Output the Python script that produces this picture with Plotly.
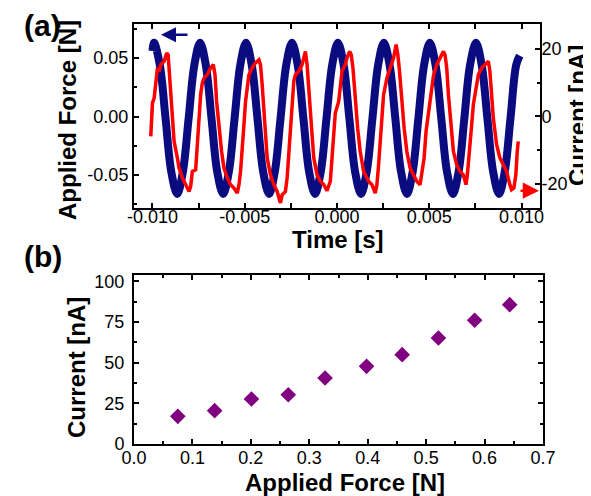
import plotly.graph_objects as go

# ---------------- Panel (a) data ----------------
force_time = [-0.01000, -0.00991, -0.00960, -0.00929, -0.00898, -0.00866, -0.00835, -0.00804, -0.00773,
              -0.00742, -0.00711, -0.00680, -0.00649, -0.00617, -0.00586, -0.00555, -0.00524,
              -0.00493, -0.00462, -0.00431, -0.00400, -0.00368, -0.00337, -0.00306, -0.00275,
              -0.00244, -0.00213, -0.00182, -0.00151, -0.00119, -0.00088, -0.00057, -0.00026,
              0.00005, 0.00036, 0.00067, 0.00098, 0.00130, 0.00161, 0.00192, 0.00223,
              0.00254, 0.00285, 0.00316, 0.00347, 0.00379, 0.00410, 0.00441, 0.00472,
              0.00503, 0.00534, 0.00565, 0.00596, 0.00628, 0.00659, 0.00690, 0.00721,
              0.00753, 0.00784, 0.00815, 0.00846, 0.00878, 0.00909, 0.00940, 0.00971, 0.00990]
force_val = [0.056, 0.063, 0.044, -0.0015, -0.047, -0.066, -0.047, -0.0015, 0.044,
             0.063, 0.044, -0.0015, -0.047, -0.066, -0.047, -0.0015, 0.044,
             0.063, 0.044, -0.0015, -0.047, -0.066, -0.047, -0.0015, 0.044,
             0.063, 0.044, -0.0015, -0.047, -0.066, -0.047, -0.0015, 0.044,
             0.063, 0.044, -0.0015, -0.047, -0.066, -0.047, -0.0015, 0.044,
             0.063, 0.044, -0.0015, -0.047, -0.066, -0.047, -0.0015, 0.044,
             0.063, 0.044, -0.0015, -0.047, -0.066, -0.047, -0.0015, 0.044,
             0.063, 0.044, -0.0015, -0.047, -0.066, -0.047, -0.0015, 0.044, 0.052]

current_time = [-0.010091, -0.010070, -0.010000, -0.009908, -0.009821, -0.009730, -0.009638, -0.009551,
                -0.009367, -0.009226, -0.009151, -0.009097, -0.009011, -0.008919, -0.008827, -0.008649,
                -0.008557, -0.008378, -0.008200, -0.008016, -0.007929, -0.007838, -0.007659, -0.007568,
                -0.007476, -0.007389, -0.007297, -0.007205, -0.007027, -0.006849, -0.006703, -0.006611,
                -0.006524, -0.006394, -0.006254, -0.006124, -0.005946, -0.005767, -0.005584, -0.005405,
                -0.005313, -0.005227, -0.005135, -0.005043, -0.004956, -0.004865, -0.004773, -0.004594,
                -0.004416, -0.004232, -0.004146, -0.004054, -0.003962, -0.003875, -0.003784, -0.003605,
                -0.003421, -0.003243, -0.003065, -0.002973, -0.002794, -0.002703, -0.002611, -0.002524,
                -0.002432, -0.002340, -0.002254, -0.002070, -0.001892, -0.001713, -0.001622, -0.001530,
                -0.001443, -0.001351, -0.001259, -0.001081, -0.000903, -0.000719, -0.000541, -0.000362,
                -0.000270, -0.000178, -0.000092, 0.000092, 0.000178, 0.000270, 0.000449, 0.000541,
                0.000686, 0.000773, 0.000865, 0.000989, 0.001119, 0.001259, 0.001443, 0.001713,
                0.001892, 0.002070, 0.002162, 0.002254, 0.002340, 0.002432, 0.002524, 0.002703,
                0.002881, 0.003065, 0.003205, 0.003297, 0.003389, 0.003514, 0.003638, 0.003784,
                0.003962, 0.004146, 0.004324, 0.004502, 0.004594, 0.004719, 0.004827, 0.004956,
                0.005090, 0.005227, 0.005405, 0.005584, 0.005767, 0.005854, 0.005946, 0.006037,
                0.006162, 0.006308, 0.006486, 0.006665, 0.006848, 0.006989, 0.007064, 0.007151,
                0.007297, 0.007389, 0.007568, 0.007659, 0.007838, 0.008016, 0.008200, 0.008286,
                0.008378, 0.008470, 0.008649, 0.008827, 0.009011, 0.009189, 0.009367, 0.009459,
                0.009584, 0.009692, 0.009767, 0.009821]
current_val = [-5.9, -4.4, 3.9, 5.4, 9.3, 14.3, 13.3, 15.3,
               16.3, 18.7, 18.2, 14.3, 6.4, -0.5, -7.4, -12.3,
               -15.3, -18.2, -20.2, -22.2, -20.7, -16.3, -15.8, -8.4,
               -0.5, 6.4, 9.9, 11.3, 12.3, 14.3, 15.3, 12.3,
               4.4, -3.5, -10.4, -15.3, -18.2, -20.2, -21.2, -22.7,
               -20.2, -16.3, -10.4, -2.5, 4.4, 9.3, 12.3, 14.3,
               15.8, 16.7, 15.3, 9.3, 1.5, -6.4, -12.3, -17.3,
               -20.2, -22.2, -25.6, -23.2, -22.2, -18.2, -10.4, -2.5,
               4.4, 10.4, 12.3, 13.3, 15.3, 19.2, 15.3, 9.3,
               2.5, -5.4, -12.3, -17.3, -19.2, -20.2, -22.0, -19.2,
               -12.3, -6.0, 1.0, 4.4, 9.3, 13.3, 15.3, 17.3,
               19.2, 18.2, 14.3, 5.4, -3.5, -10.4, -16.3, -19.2,
               -20.2, -22.7, -20.2, -14.3, -6.4, 0.5, 6.4, 11.3,
               14.3, 17.3, 21.2, 18.2, 13.3, 4.4, -3.5, -10.4,
               -15.3, -17.3, -19.2, -20.2, -17.3, -12.3, -4.4, 1.5,
               7.4, 12.0, 15.3, 17.3, 19.2, 18.2, 14.3, 6.4,
               -2.5, -10.4, -14.3, -16.3, -17.3, -20.2, -17.3, -10.4,
               -2.5, 3.5, 9.3, 12.3, 14.3, 15.3, 16.3, 13.3,
               7.4, -0.5, -8.4, -12.3, -14.3, -16.3, -20.2, -21.7,
               -21.2, -17.3, -10.4, -7.4]

# ---------------- Panel (b) data ----------------
applied_force = [0.075, 0.138, 0.201, 0.264, 0.327, 0.398, 0.459, 0.521, 0.583, 0.643]
peak_current = [17.0, 20.5, 27.6, 30.3, 40.5, 47.7, 54.9, 65.1, 76.0, 85.6]

a_time_ticks = [-0.010, -0.005, 0.0, 0.005, 0.010]
a_time_labels = ["-0.010", "-0.005", "0.000", "0.005", "0.010"]
a_force_ticks = [-0.05, 0.0, 0.05]
a_force_labels = ["-0.05", "0.00", "0.05"]
a_cur_ticks = [-20, 0, 20]
a_cur_labels = ["-20", "0", "20"]
b_x_ticks = [0.0, 0.1, 0.2, 0.3, 0.4, 0.5, 0.6, 0.7]
b_x_labels = ["0.0", "0.1", "0.2", "0.3", "0.4", "0.5", "0.6", "0.7"]
b_y_ticks = [0, 25, 50, 75, 100]

W, H = 591, 496
FONT = "Liberation Sans, Arial, Helvetica, sans-serif"
NAVY = "#0b0b80"
RED = "#ff0000"
PURPLE = "#800080"


def px(x):
    return x / W


def py(y):
    return 1 - y / H


fig = go.Figure()
fig.add_trace(go.Scatter(x=force_time, y=force_val, mode="lines",
                         line=dict(color=NAVY, width=8, shape="spline", smoothing=1.0),
                         xaxis="x", yaxis="y", showlegend=False))
fig.add_trace(go.Scatter(x=current_time, y=current_val, mode="lines",
                         line=dict(color=RED, width=3.5),
                         xaxis="x", yaxis="y2", showlegend=False))
fig.add_trace(go.Scatter(x=applied_force, y=peak_current, mode="markers",
                         marker=dict(symbol="diamond", size=12, color=PURPLE),
                         xaxis="x2", yaxis="y3", showlegend=False))

tickfont = dict(family=FONT, size=18, color="black")
common = dict(showline=True, linecolor="black", linewidth=2, ticks="inside",
              ticklen=5, tickwidth=1.5, tickcolor="black", showgrid=False,
              zeroline=False, tickfont=tickfont, automargin=False)
minor = dict(ticks="inside", ticklen=3, tickwidth=1.5, tickcolor="black", showgrid=False)

fig.update_layout(
    width=W, height=H,
    margin=dict(l=0, r=0, t=0, b=0),
    paper_bgcolor="white", plot_bgcolor="white",
    template="none",
    font=dict(family=FONT, color="black"),
    xaxis=dict(domain=[px(126), px(532)], anchor="y", range=[-0.011, 0.011],
               tickvals=a_time_ticks, ticktext=a_time_labels, mirror="allticks",
               ticklabelstandoff=-9,
               minor=dict(dtick=0.0025, tick0=0, **minor), **common),
    yaxis=dict(domain=[py(200), py(16)], anchor="x", range=[-0.078, 0.079],
               tickvals=a_force_ticks, ticktext=a_force_labels,
               ticklabelstandoff=0,
               minor=dict(dtick=0.025, tick0=0, **minor), **common),
    yaxis2=dict(domain=[py(200), py(16)], anchor="x", overlaying="y", side="right",
                range=[-27.1, 27.3], tickvals=a_cur_ticks, ticktext=a_cur_labels,
                ticklabelstandoff=-4,
                minor=dict(dtick=10, tick0=0, **minor), **common),
    xaxis2=dict(domain=[px(126), px(535)], anchor="y3", range=[0, 0.7],
                tickvals=b_x_ticks, ticktext=b_x_labels, mirror="allticks",
                ticklabelstandoff=-4,
                minor=dict(dtick=0.05, tick0=0, **minor), **common),
    yaxis3=dict(domain=[py(436), py(266.7)], anchor="x2", range=[0, 104],
                tickvals=b_y_ticks, mirror="allticks",
                ticklabelstandoff=4,
                minor=dict(dtick=12.5, tick0=0, **minor), **common),
)


def label(text, x, y, size, angle=0):
    fig.add_annotation(x=px(x), y=py(y), xref="paper", yref="paper", text=text,
                       showarrow=False, xanchor="center", yanchor="middle",
                       textangle=angle, font=dict(family=FONT, size=size, color="black"))


# axis titles
label("<b>Applied Force [N]</b>", 59, 112, 24, -90)
label("<b>Current [nA]</b>", 569, 108, 24, -90)
label("<b>Time [s]</b>", 330, 231, 24)
label("<b>Current [nA]</b>", 68, 360, 24, -90)
label("<b>Applied Force [N]</b>", 337, 474, 24)
# panel letters
label("<b>(a)</b>", 34, 18, 30)
label("<b>(b)</b>", 35, 248, 30)

# direction arrows
fig.add_annotation(x=px(153), y=py(26.7), xref="paper", yref="paper", text="",
                   showarrow=True, ax=28, ay=0, arrowhead=2, arrowsize=1.2,
                   arrowwidth=2.5, arrowcolor=NAVY)
fig.add_annotation(x=px(531), y=py(182.7), xref="paper", yref="paper", text="",
                   showarrow=True, ax=-20, ay=0, arrowhead=2, arrowsize=1.3,
                   arrowwidth=2.5, arrowcolor=RED)

fig.write_html("out.html")
